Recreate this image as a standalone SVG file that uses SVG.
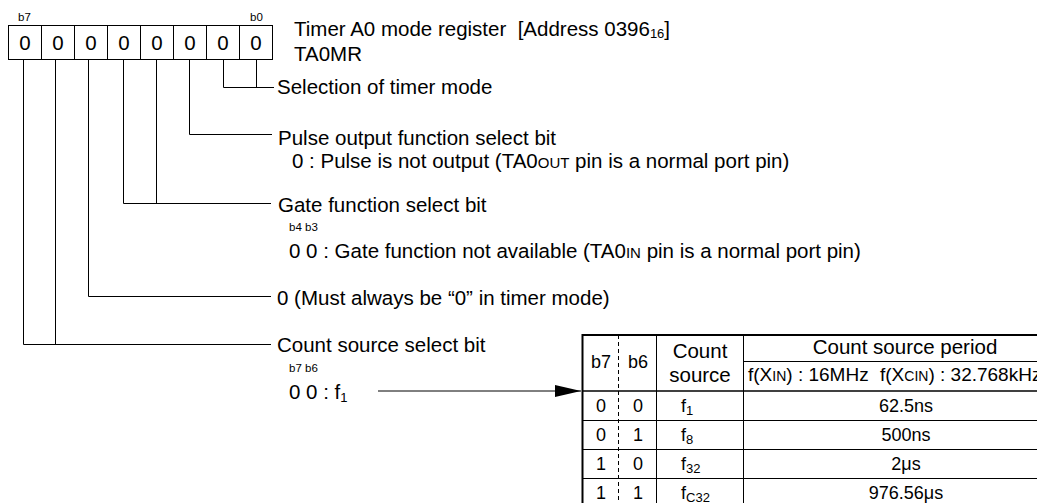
<svg xmlns="http://www.w3.org/2000/svg" width="1037" height="503" viewBox="0 0 1037 503">
<style>
.t{font-family:"Liberation Sans",Arial,sans-serif;font-size:20.5px;fill:#000}
.s{font-size:11.5px}
.tb{font-size:18px}
.th{font-size:19px}
.sub{font-size:13px}
.sc{font-size:15px}
.sc2{font-size:14px}
.ln{stroke:#000;stroke-width:1;fill:none}
.bd{stroke:#000;stroke-width:2;fill:none}
.ds{stroke:#000;stroke-width:1;stroke-dasharray:4 3;fill:none}
.m{text-anchor:middle}
</style>
<defs>
<marker id="ah" markerWidth="26" markerHeight="12" refX="26" refY="6" orient="auto" markerUnits="userSpaceOnUse">
<path d="M0,0 L26,6 L0,12 Z" fill="#000"/>
</marker>
</defs>
<rect width="1037" height="503" fill="#fff"/>

<g id="register">
<text class="t s" x="18" y="21">b7</text>
<text class="t s" x="250" y="21">b0</text>
<rect class="ln" x="8.5" y="25.5" width="264" height="34"/>
<path class="ln" d="M41.5,25.5V59.5M74.5,25.5V59.5M107.5,25.5V59.5M140.5,25.5V59.5M173.5,25.5V59.5M206.5,25.5V59.5M239.5,25.5V59.5"/>
<g class="t m">
<text x="25" y="50">0</text><text x="58" y="50">0</text><text x="91" y="50">0</text><text x="124" y="50">0</text>
<text x="157" y="50">0</text><text x="190" y="50">0</text><text x="223" y="50">0</text><text x="256" y="50">0</text>
</g>
<text class="t" x="294" y="36">Timer A0 mode register&#160; [Address 0396<tspan class="sub" dy="2">16</tspan><tspan dy="-2">]</tspan></text>
<text class="t" x="294" y="61">TA0MR</text>
</g>

<g id="connectors">
<path class="ln" d="M223.5,59.5V87.5H274M256.5,59.5V87.5"/>
<path class="ln" d="M189.5,59.5V134.5H272"/>
<path class="ln" d="M123.5,59.5V203.5H271M156.5,59.5V203.5"/>
<path class="ln" d="M88.5,59.5V296.5H271"/>
<path class="ln" d="M23.5,59.5V344.5H271M55.5,59.5V344.5"/>
<line class="ln" x1="378" y1="391" x2="581" y2="391" marker-end="url(#ah)"/>
</g>

<g id="n-mode">
<text class="t" x="277" y="94">Selection of timer mode</text>
</g>
<g id="n-pulse">
<text class="t" x="278" y="145">Pulse output function select bit</text>
<text class="t" x="292" y="168">0 : Pulse is not output (TA0<tspan class="sc">OUT</tspan> pin is a normal port pin)</text>
</g>
<g id="n-gate">
<text class="t" x="278" y="212">Gate function select bit</text>
<text class="t s" x="289" y="231">b4 b3</text>
<text class="t" x="289" y="258">0 0 : Gate function not available (TA0<tspan class="sc">IN</tspan> pin is a normal port pin)</text>
</g>
<g id="n-must">
<text class="t" x="277" y="305">0 (Must always be “0” in timer mode)</text>
</g>
<g id="n-count">
<text class="t" x="277" y="352">Count source select bit</text>
<text class="t s" x="289" y="372">b7 b6</text>
<text class="t" x="289" y="399">0 0 : f<tspan class="sub" dy="3">1</tspan></text>
</g>

<g id="table">
<path class="bd" d="M1040,335H582.5V506"/>
<path class="ln" d="M656.5,335V506M743.5,335V506"/>
<path class="ds" d="M618.5,335V506"/>
<path class="ln" d="M743.5,361.5H1040"/>
<path class="ln" d="M582,391H1040" style="stroke-width:1.5"/>
<path class="ln" d="M582,420.5H1040M582,449.5H1040M582,478.5H1040"/>
<text class="t tb m" x="601" y="368">b7</text>
<text class="t tb m" x="638" y="368">b6</text>
<text class="t m" x="700" y="358">Count</text>
<text class="t m" x="700" y="382">source</text>
<text class="t m" x="905" y="354">Count source period</text>
<text class="t th" x="748" y="381">f(X<tspan class="sc2">IN</tspan>) : 16MHz</text>
<text class="t th" x="880" y="381">f(X<tspan class="sc2">CIN</tspan>) : 32.768kHz</text>
<g class="t tb">
<text class="m" x="601" y="412">0</text><text class="m" x="638" y="412">0</text>
<text x="681" y="412">f<tspan class="sub" dy="3">1</tspan></text>
<text class="m" x="906" y="412">62.5ns</text>
<text class="m" x="601" y="441">0</text><text class="m" x="638" y="441">1</text>
<text x="681" y="441">f<tspan class="sub" dy="3">8</tspan></text>
<text class="m" x="906" y="441">500ns</text>
<text class="m" x="601" y="470">1</text><text class="m" x="638" y="470">0</text>
<text x="681" y="470">f<tspan class="sub" dy="3">32</tspan></text>
<text class="m" x="906" y="470">2μs</text>
<text class="m" x="601" y="499">1</text><text class="m" x="638" y="499">1</text>
<text x="681" y="499">f<tspan class="sub" dy="3">C32</tspan></text>
<text class="m" x="906" y="499">976.56μs</text>
</g>
</g>
</svg>
